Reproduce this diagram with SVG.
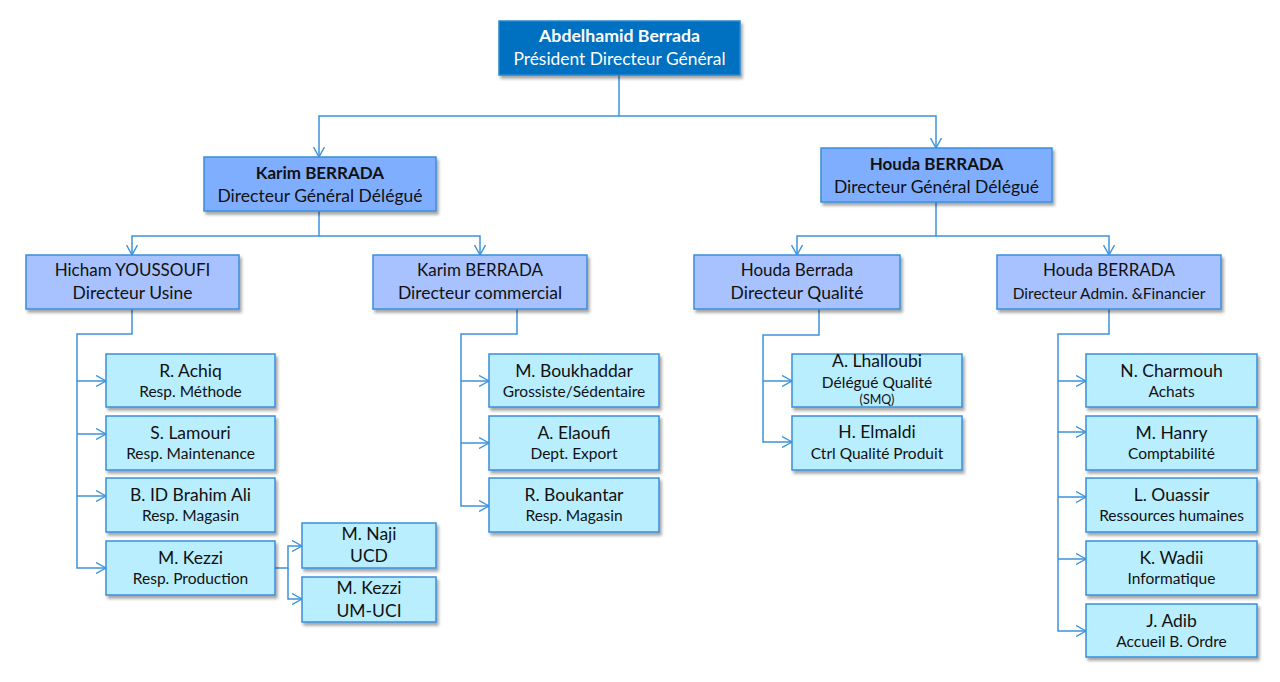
<svg xmlns="http://www.w3.org/2000/svg" width="1280" height="682" viewBox="0 0 1280 682">
<defs>
<filter id="sh" x="-10%" y="-10%" width="125%" height="140%">
<feDropShadow dx="2" dy="3" stdDeviation="1.6" flood-color="#000" flood-opacity="0.35"/>
</filter>
<marker id="arr" viewBox="0 0 10 12" refX="10" refY="6" markerWidth="10" markerHeight="12" markerUnits="userSpaceOnUse" orient="auto">
<path d="M0,0.5 L10,6 L0,11.5" fill="none" stroke="#3B93DB" stroke-width="1.4"/>
</marker>
</defs>
<style>
rect{stroke:#3A8EDC;stroke-width:1.5;filter:url(#sh)}
.top{fill:#0070C0;stroke:#2A86D4}
.dg{fill:#80AEFF}
.l3{fill:#A8C1FF}
.lf{fill:#B9EEFF}
text{font-family:Lato,"Open Sans","Liberation Sans",sans-serif;text-anchor:middle;fill:#111}
.w{fill:#fff}
.b{font-weight:bold}
.n{font-size:17.5px}
.m{font-size:17px}
.r{font-size:15.5px}
.s{font-size:12.5px}
.c path{fill:none;stroke:#3B93DB;stroke-width:1.5}
.c .a{marker-end:url(#arr)}
</style>
<rect width="1280" height="682" fill="#fff" style="stroke:none;filter:none"/>
<g class="c" id="connectors">
<path class="a" d="M619,75 V116 H319 V157"/>
<path class="a" d="M619,116 H936 V148"/>
<path class="a" d="M319,211 V236 H132 V255"/>
<path class="a" d="M319,236 H480 V255"/>
<path class="a" d="M936,202 V236 H797 V255"/>
<path class="a" d="M936,236 H1109 V255"/>
<path class="a" d="M132,309 V334 H77 V568 H106"/>
<path class="a" d="M77,381 H106"/>
<path class="a" d="M77,434 H106"/>
<path class="a" d="M77,496 H106"/>
<path class="a" d="M275,568 H288 V546 H302"/>
<path class="a" d="M288,568 V599 H302"/>
<path class="a" d="M517,309 V334 H461 V506 H489"/>
<path class="a" d="M461,381 H489"/>
<path class="a" d="M461,443 H489"/>
<path class="a" d="M819,309 V335 H763 V442 H792"/>
<path class="a" d="M763,381 H792"/>
<path class="a" d="M1109,309 V334 H1058 V631 H1086"/>
<path class="a" d="M1058,381 H1086"/>
<path class="a" d="M1058,432 H1086"/>
<path class="a" d="M1058,497 H1086"/>
<path class="a" d="M1058,559 H1086"/>
</g>
<g id="pdg"><rect class="top" x="499" y="21" width="241" height="54"/>
<text class="w b" x="619.5" y="42" font-size="17.7">Abdelhamid Berrada</text>
<text class="w" x="619.5" y="65" font-size="17.4">Président Directeur Général</text></g>
<g id="karim-dg"><rect class="dg" x="204" y="157" width="232" height="54"/>
<text class="b m" x="320" y="179">Karim BERRADA</text>
<text class="n" x="320" y="201.5">Directeur Général Délégué</text></g>
<g id="houda-dg"><rect class="dg" x="821" y="148" width="231" height="54"/>
<text class="b m" x="936.5" y="170">Houda BERRADA</text>
<text class="n" x="936.5" y="192.5">Directeur Général Délégué</text></g>
<g id="hicham"><rect class="l3" x="26" y="255" width="213" height="54"/>
<text class="m" x="132.5" y="276">Hicham YOUSSOUFI</text>
<text class="n" x="132.5" y="299">Directeur Usine</text></g>
<g id="karim-com"><rect class="l3" x="373" y="255" width="214" height="54"/>
<text class="m" x="480" y="276">Karim BERRADA</text>
<text class="n" x="480" y="299">Directeur commercial</text></g>
<g id="houda-q"><rect class="l3" x="694" y="255" width="206" height="54"/>
<text class="m" x="797" y="276">Houda Berrada</text>
<text class="n" x="797" y="299">Directeur Qualité</text></g>
<g id="houda-af"><rect class="l3" x="997" y="255" width="224" height="54"/>
<text class="m" x="1109" y="276">Houda BERRADA</text>
<text class="r" x="1109" y="298.5">Directeur Admin. &amp;Financier</text></g>
<g id="achiq"><rect class="lf" x="106" y="354" width="169" height="53"/>
<text class="n" x="190.5" y="377">R. Achiq</text>
<text class="r" x="190.5" y="397">Resp. Méthode</text></g>
<g id="lamouri"><rect class="lf" x="106" y="416" width="169" height="54"/>
<text class="n" x="190.5" y="439">S. Lamouri</text>
<text class="r" x="190.5" y="459">Resp. Maintenance</text></g>
<g id="idbrahim"><rect class="lf" x="106" y="478" width="169" height="54"/>
<text class="n" x="190.5" y="501">B. ID Brahim Ali</text>
<text class="r" x="190.5" y="521">Resp. Magasin</text></g>
<g id="kezzi"><rect class="lf" x="106" y="541" width="169" height="54"/>
<text class="n" x="190.5" y="564">M. Kezzi</text>
<text class="r" x="190.5" y="584">Resp. Production</text></g>
<g id="naji"><rect class="lf" x="302" y="523" width="134" height="45"/>
<text class="n" x="369" y="539.5">M. Naji</text>
<text class="n" x="369" y="562">UCD</text></g>
<g id="kezzi-um"><rect class="lf" x="302" y="577" width="134" height="45"/>
<text class="n" x="369" y="594">M. Kezzi</text>
<text class="n" x="369" y="616.5">UM-UCI</text></g>
<g id="boukhaddar"><rect class="lf" x="489" y="354" width="170" height="53"/>
<text class="n" x="574" y="377">M. Boukhaddar</text>
<text class="r" x="574" y="397">Grossiste/Sédentaire</text></g>
<g id="elaoufi"><rect class="lf" x="489" y="416" width="170" height="54"/>
<text class="n" x="574" y="439">A. Elaoufi</text>
<text class="r" x="574" y="459">Dept. Export</text></g>
<g id="boukantar"><rect class="lf" x="489" y="478" width="170" height="54"/>
<text class="n" x="574" y="501">R. Boukantar</text>
<text class="r" x="574" y="521">Resp. Magasin</text></g>
<g id="lhalloubi"><rect class="lf" x="792" y="354" width="170" height="53"/>
<text class="n" x="877" y="367">A. Lhalloubi</text>
<text class="r" x="877" y="388">Délégué Qualité</text>
<text class="s" x="877" y="404">(SMQ)</text></g>
<g id="elmaldi"><rect class="lf" x="792" y="416" width="170" height="54"/>
<text class="n" x="877" y="438">H. Elmaldi</text>
<text class="r" x="877" y="459">Ctrl Qualité Produit</text></g>
<g id="charmouh"><rect class="lf" x="1086" y="354" width="171" height="53"/>
<text class="n" x="1171.5" y="377">N. Charmouh</text>
<text class="r" x="1171.5" y="397">Achats</text></g>
<g id="hanry"><rect class="lf" x="1086" y="416" width="171" height="54"/>
<text class="n" x="1171.5" y="439">M. Hanry</text>
<text class="r" x="1171.5" y="459">Comptabilité</text></g>
<g id="ouassir"><rect class="lf" x="1086" y="478" width="171" height="54"/>
<text class="n" x="1171.5" y="501">L. Ouassir</text>
<text class="r" x="1171.5" y="521">Ressources humaines</text></g>
<g id="wadii"><rect class="lf" x="1086" y="541" width="171" height="54"/>
<text class="n" x="1171.5" y="564">K. Wadii</text>
<text class="r" x="1171.5" y="584">Informatique</text></g>
<g id="adib"><rect class="lf" x="1086" y="604" width="171" height="53"/>
<text class="n" x="1171.5" y="627">J. Adib</text>
<text class="r" x="1171.5" y="647">Accueil B. Ordre</text></g>
</svg>
